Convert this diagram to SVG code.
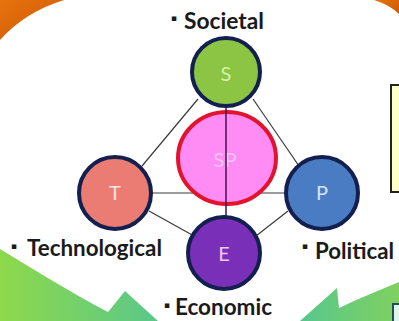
<svg xmlns="http://www.w3.org/2000/svg" width="399" height="321" viewBox="0 0 399 321">
<style>
.lbl{font-family:Lato,"Liberation Sans",sans-serif;font-size:22px;fill:#1a1a1a;font-weight:bold}
.bul{font-family:"DejaVu Sans",sans-serif;font-size:9px;fill:#1a1a1a}
.node{stroke:#13204f;stroke-width:4}
.let{font-family:Lato,"Liberation Sans",sans-serif;font-size:20px;text-anchor:middle}
.conn{stroke:#3a3a3a;stroke-width:1.2;fill:none}
</style>
<defs>
<linearGradient id="og" x1="0" y1="0" x2="1" y2="1">
<stop offset="0" stop-color="#e8720f"/><stop offset="1" stop-color="#c95800"/>
</linearGradient>
<linearGradient id="gl" x1="0" y1="0" x2="1" y2="0">
<stop offset="0" stop-color="#8ed94b"/><stop offset="1" stop-color="#5ac78a"/>
</linearGradient>
<linearGradient id="gr" x1="0" y1="0" x2="1" y2="0">
<stop offset="0" stop-color="#58c78c"/><stop offset="1" stop-color="#7fd160"/>
</linearGradient>
</defs>
<rect width="399" height="321" fill="#ffffff"/>
<path d="M0,0 L64,0 Q25,12 0,40 Z" fill="url(#og)"/>
<path d="M374,0 L399,0 L399,14 Q390,5 374,0 Z" fill="url(#og)"/>
<path d="M0,249 C35,270 70,292 108,312 L125,291 L158,321 L0,321 Z" fill="url(#gl)"/>
<path d="M300,321 L337,288 L339,308 C360,298 380,290 399,282 L399,321 Z" fill="url(#gr)"/>
<rect x="391" y="85" width="20" height="107" fill="#ffffc6" stroke="#222" stroke-width="2"/>
<rect x="393" y="304" width="20" height="30" fill="#dff4ee" stroke="#1e4f5a" stroke-width="2"/>
<g id="connectors">
<line class="conn" x1="198" y1="99" x2="142" y2="166"/>
<line class="conn" x1="253" y1="99" x2="299" y2="166"/>
<line class="conn" x1="152" y1="193" x2="286" y2="193"/>
<line class="conn" x1="149" y1="211" x2="194" y2="236"/>
<line class="conn" x1="288" y1="211" x2="256" y2="236"/>
</g>
<g id="node-SP">
<ellipse cx="227" cy="158" rx="49" ry="46" fill="#ff8cf4" stroke="#e3132e" stroke-width="4"/>
<text class="let" x="225" y="167" fill="#f7c4f4" font-size="22">SP</text>
</g>
<line id="conn-SE" x1="226" y1="108" x2="226" y2="218" stroke="#3a1650" stroke-width="1.5"/>
<g id="node-S">
<circle class="node" cx="226" cy="72" r="34" fill="#8cc543"/>
<text class="let" x="226" y="81" fill="#d8f2a8">S</text>
<text class="bul" x="171" y="21">▪</text>
<text class="lbl" x="184" y="29" textLength="80" lengthAdjust="spacingAndGlyphs">Societal</text>
</g>
<g id="node-T">
<circle class="node" cx="115" cy="193" r="36" fill="#ea7c73"/>
<text class="let" x="115" y="200" fill="#ffe4e0">T</text>
<text class="bul" x="11" y="249">▪</text>
<text class="lbl" x="27" y="256" textLength="135" lengthAdjust="spacingAndGlyphs">Technological</text>
</g>
<g id="node-P">
<circle class="node" cx="322" cy="193" r="36" fill="#4a7cc3"/>
<text class="let" x="322" y="200" fill="#d6e4fb">P</text>
<text class="bul" x="302" y="249">▪</text>
<text class="lbl" x="315" y="259" textLength="79" lengthAdjust="spacingAndGlyphs">Political</text>
</g>
<g id="node-E">
<circle class="node" cx="224" cy="253" r="36" fill="#7a2fb9"/>
<text class="let" x="224" y="261" fill="#f2c8f2">E</text>
<text class="bul" x="164" y="308">▪</text>
<text class="lbl" x="175" y="315" textLength="97" lengthAdjust="spacingAndGlyphs">Economic</text>
</g>
</svg>
